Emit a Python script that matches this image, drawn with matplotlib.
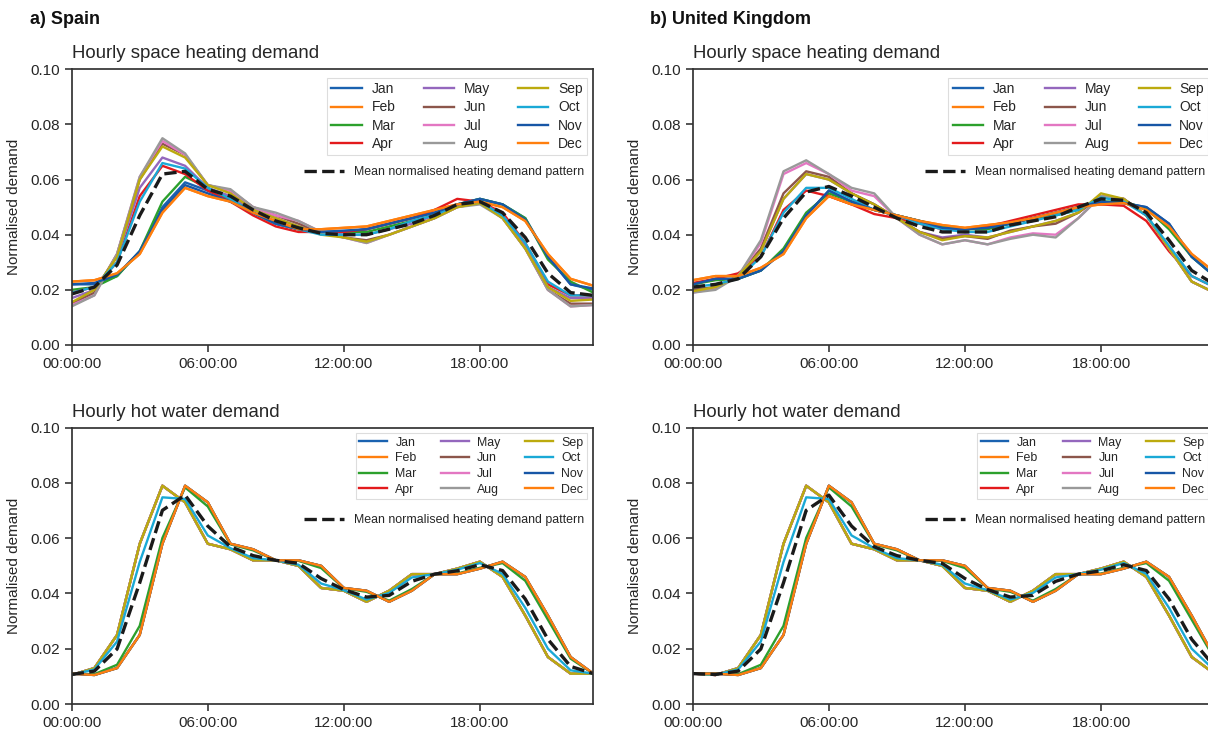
import matplotlib.pyplot as plt
import matplotlib as mpl
from matplotlib.lines import Line2D

# global font / style settings
mpl.rcParams.update({
    'font.family': ['Liberation Sans', 'DejaVu Sans'],
    'axes.edgecolor': '#333333',
    'axes.linewidth': 1.25,
    'xtick.color': '#262626',
    'ytick.color': '#262626',
    'text.color': '#262626',
    'axes.labelcolor': '#262626',
})

# data: hourly normalised demand, one value per hour
hours = list(range(24))
xtick_pos = [0, 6, 12, 18]
xtick_labels = ['00:00:00', '06:00:00', '12:00:00', '18:00:00']
ytick_pos = [0.00, 0.02, 0.04, 0.06, 0.08, 0.10]
months = ['Jan', 'Feb', 'Mar', 'Apr', 'May', 'Jun', 'Jul', 'Aug', 'Sep', 'Oct', 'Nov', 'Dec']
month_colors = ['#1a62b0', '#ff7f0e', '#2ca02c', '#e31a1c', '#9467bd', '#8c564b',
                '#e377c2', '#999999', '#bcaa0e', '#1aa9d6', '#1756a6', '#ff7f0e']

# Spain - space heating
es_heat_jan = [.022, .022, .025, .034, .050, .059, .056, .053, .048, .044, .042, .041, .041, .042, .044, .046, .048, .051, .053, .051, .046, .032, .022, .020]
es_heat_feb = [.023, .0235, .026, .033, .048, .057, .054, .052, .048, .045, .042, .042, .0425, .043, .045, .047, .049, .051, .052, .050, .045, .033, .024, .0215]
es_heat_mar = [.020, .021, .025, .034, .052, .061, .057, .053, .048, .044, .042, .041, .041, .041, .043, .045, .047, .051, .053, .051, .046, .031, .023, .019]
es_heat_apr = [.019, .021, .030, .054, .065, .062, .056, .052, .047, .043, .041, .041, .041, .042, .044, .046, .049, .053, .052, .048, .037, .022, .018, .018]
es_heat_may = [.017, .020, .032, .057, .068, .065, .057, .054, .049, .046, .043, .041, .040, .040, .042, .044, .047, .051, .052, .047, .036, .021, .017, .017]
es_heat_jun = [.015, .019, .033, .060, .073, .069, .058, .056, .050, .047, .044, .041, .039, .038, .040, .043, .046, .050, .052, .046, .035, .020, .015, .015]
es_heat_jul = [.0145, .018, .033, .061, .074, .069, .058, .056, .050, .047, .045, .041, .039, .037, .040, .043, .046, .050, .0515, .046, .035, .020, .014, .0145]
es_heat_aug = [.014, .018, .033, .061, .075, .0695, .058, .0565, .050, .048, .045, .041, .039, .037, .040, .043, .046, .050, .051, .046, .035, .020, .014, .0145]
es_heat_sep = [.0155, .020, .032, .060, .072, .068, .058, .055, .049, .046, .043, .040, .039, .0375, .040, .043, .046, .050, .0515, .046, .035, .021, .016, .0165]
es_heat_oct = [.019, .021, .030, .052, .066, .064, .057, .053, .048, .044, .042, .040, .040, .040, .042, .045, .047, .051, .052, .047, .037, .023, .018, .018]
es_heat_nov = [.022, .0225, .0255, .034, .049, .058, .055, .052, .048, .044, .042, .041, .0415, .042, .044, .046, .048, .051, .053, .051, .0455, .032, .022, .0205]
es_heat_dec = [.023, .0235, .026, .033, .048, .057, .054, .052, .048, .045, .042, .042, .0425, .043, .045, .047, .049, .051, .052, .050, .045, .033, .024, .0215]
es_heat_mean = [.0185, .021, .029, .047, .062, .063, .0565, .054, .049, .045, .0425, .0405, .040, .040, .042, .044, .047, .051, .052, .048, .039, .026, .019, .018]

# United Kingdom - space heating
uk_heat_jan = [.022, .024, .024, .027, .034, .047, .056, .052, .049, .047, .045, .043, .042, .0425, .044, .046, .048, .050, .052, .0515, .050, .044, .032, .025]
uk_heat_feb = [.0235, .025, .025, .028, .033, .046, .054, .051, .049, .047, .045, .0435, .0425, .0435, .0445, .046, .048, .050, .051, .0515, .049, .043, .033, .0265]
uk_heat_mar = [.022, .0235, .024, .027, .035, .048, .055, .052, .049, .047, .045, .043, .042, .042, .044, .046, .047, .049, .052, .052, .0495, .042, .032, .025]
uk_heat_apr = [.0225, .024, .026, .032, .049, .056, .054, .051, .0475, .046, .044, .042, .042, .043, .045, .047, .049, .051, .051, .0505, .045, .034, .025, .021]
uk_heat_may = [.020, .021, .025, .034, .053, .062, .060, .055, .051, .046, .041, .039, .040, .039, .041, .043, .045, .048, .054, .053, .047, .035, .023, .019]
uk_heat_jun = [.020, .021, .025, .035, .055, .063, .061, .055, .051, .046, .041, .0385, .0395, .0385, .0415, .043, .044, .048, .054, .053, .047, .035, .023, .019]
uk_heat_jul = [.019, .0205, .025, .037, .062, .066, .062, .056, .054, .046, .040, .0365, .038, .0365, .039, .0405, .040, .046, .054, .053, .047, .035, .023, .019]
uk_heat_aug = [.019, .020, .025, .038, .063, .067, .062, .057, .055, .046, .040, .0365, .038, .0365, .0385, .040, .039, .046, .054, .053, .047, .035, .023, .019]
uk_heat_sep = [.0195, .021, .025, .034, .053, .062, .060, .055, .051, .046, .041, .038, .0395, .039, .041, .043, .045, .048, .055, .053, .047, .035, .023, .019]
uk_heat_oct = [.021, .022, .024, .032, .048, .057, .057, .053, .049, .047, .044, .042, .041, .041, .043, .045, .047, .049, .0535, .052, .047, .036, .025, .021]
uk_heat_nov = [.022, .024, .024, .027, .034, .047, .056, .052, .049, .047, .045, .0425, .042, .0425, .044, .046, .048, .050, .052, .0515, .050, .044, .032, .025]
uk_heat_dec = [.0235, .025, .025, .028, .033, .046, .054, .051, .049, .047, .045, .0435, .0425, .0435, .0445, .046, .048, .050, .051, .0515, .049, .043, .033, .0265]
uk_heat_mean = [.021, .022, .024, .032, .046, .0555, .0575, .054, .050, .046, .043, .041, .041, .041, .0435, .045, .0465, .050, .053, .0525, .048, .038, .027, .022]

# Spain - hot water (winter months, summer-time months, and the two changeover months)
es_dhw_winter = [.011, .0105, .013, .025, .058, .079, .073, .058, .056, .052, .052, .050, .042, .041, .037, .041, .047, .047, .049, .0515, .046, .032, .017, .011]
es_dhw_summer = [.0105, .013, .025, .058, .079, .073, .058, .056, .052, .052, .050, .042, .041, .037, .041, .047, .047, .049, .0515, .046, .032, .017, .011, .011]
es_dhw_mar = [.011, .0108, .0142, .0283, .0601, .0784, .0715, .0578, .0556, .052, .0518, .0492, .0419, .0406, .0374, .0416, .047, .0472, .0493, .051, .0446, .0305, .0164, .011]
es_dhw_oct = [.0106, .0125, .0226, .0514, .0748, .0742, .061, .0564, .0528, .052, .0504, .0436, .0412, .0378, .0402, .0458, .047, .0486, .051, .0471, .0348, .020, .0122, .011]
es_dhw_mean = [.0107, .0119, .0199, .0439, .0701, .0756, .0644, .0569, .0537, .052, .0509, .0454, .0414, .0387, .0393, .0444, .047, .0482, .0504, .0483, .038, .0234, .0136, .011]

# United Kingdom - hot water
uk_dhw_winter = [.011, .011, .0105, .013, .025, .058, .079, .073, .058, .056, .052, .052, .050, .042, .041, .037, .041, .047, .047, .049, .0515, .046, .032, .017]
uk_dhw_summer = [.011, .0105, .013, .025, .058, .079, .073, .058, .056, .052, .052, .050, .042, .041, .037, .041, .047, .047, .049, .0515, .046, .032, .017, .011]
uk_dhw_mar = [.011, .011, .0108, .0142, .0283, .0601, .0784, .0715, .0578, .0556, .052, .0518, .0492, .0419, .0406, .0374, .0416, .047, .0472, .0493, .051, .0446, .0305, .0164]
uk_dhw_oct = [.011, .0106, .0125, .0226, .0514, .0748, .0742, .061, .0564, .0528, .052, .0504, .0436, .0412, .0378, .0402, .0458, .047, .0486, .051, .0471, .0348, .020, .0122]
uk_dhw_mean = [.011, .0107, .0119, .0199, .0439, .0701, .0756, .0644, .0569, .0537, .052, .0509, .0454, .0414, .0387, .0393, .0444, .047, .0482, .0504, .0483, .038, .0234, .0136]

es_heat = [es_heat_jan, es_heat_feb, es_heat_mar, es_heat_apr, es_heat_may, es_heat_jun,
           es_heat_jul, es_heat_aug, es_heat_sep, es_heat_oct, es_heat_nov, es_heat_dec]
uk_heat = [uk_heat_jan, uk_heat_feb, uk_heat_mar, uk_heat_apr, uk_heat_may, uk_heat_jun,
           uk_heat_jul, uk_heat_aug, uk_heat_sep, uk_heat_oct, uk_heat_nov, uk_heat_dec]
es_dhw = [es_dhw_winter, es_dhw_winter, es_dhw_mar, es_dhw_summer, es_dhw_summer, es_dhw_summer,
          es_dhw_summer, es_dhw_summer, es_dhw_summer, es_dhw_oct, es_dhw_winter, es_dhw_winter]
uk_dhw = [uk_dhw_winter, uk_dhw_winter, uk_dhw_mar, uk_dhw_summer, uk_dhw_summer, uk_dhw_summer,
          uk_dhw_summer, uk_dhw_summer, uk_dhw_summer, uk_dhw_oct, uk_dhw_winter, uk_dhw_winter]

W, H = 1208, 729
fig = plt.figure(figsize=(W / 100, H / 100), dpi=100)


def px_axes(left, top, width, height):
    # axes placed in pixel units of the final picture
    return fig.add_axes([left / W, 1 - (top + height) / H, width / W, height / H])


def draw_panel(ax, series, mean, title, big):
    for m, vals in enumerate(series):
        ax.plot(hours, vals, color=month_colors[m], lw=1.7, label=months[m])
    mean_line, = ax.plot(hours, mean, color='#1a1a1a', lw=2.4, ls='--',
                         label='Mean normalised heating demand pattern')
    ax.set_xlim(0, 23)
    ax.set_ylim(0, 0.10)
    ax.set_xticks(xtick_pos)
    ax.set_xticklabels(xtick_labels)
    ax.set_yticks(ytick_pos)
    ax.set_yticklabels(['%.2f' % v for v in ytick_pos])
    ax.tick_params(labelsize=11, length=5, width=1.1)
    ax.set_ylabel('Normalised demand', fontsize=11, labelpad=7)
    ax.set_title(title, loc='left', fontsize=13.4, pad=8)

    handles = ax.get_lines()[:12]
    fs = 10 if big else 8.9
    top_y = 0.968 if big else 0.981
    leg = ax.legend(handles=handles, ncol=3, loc='upper right', bbox_to_anchor=(0.988, top_y),
                    borderaxespad=0, fontsize=fs, handlelength=2.2, handletextpad=0.7,
                    columnspacing=2.0, labelspacing=0.3, borderpad=0.3,
                    frameon=True, fancybox=False, edgecolor='#dddddd', framealpha=1)
    leg.get_frame().set_linewidth(0.8)
    ax.add_artist(leg)
    mean_y = 0.6275 if big else 0.666
    ax.legend(handles=[mean_line], loc='center right', bbox_to_anchor=(0.982, mean_y),
              borderaxespad=0, borderpad=0, frameon=False, fontsize=8.9,
              handlelength=3.2, handletextpad=0.8)


ax1 = px_axes(71.7, 69.3, 521.6, 275.7)
ax2 = px_axes(692.8, 69.3, 521.6, 275.7)
ax3 = px_axes(71.7, 427.7, 521.6, 276.3)
ax4 = px_axes(692.8, 427.7, 521.6, 276.3)

draw_panel(ax1, es_heat, es_heat_mean, 'Hourly space heating demand', True)
draw_panel(ax2, uk_heat, uk_heat_mean, 'Hourly space heating demand', True)
draw_panel(ax3, es_dhw, es_dhw_mean, 'Hourly hot water demand', False)
draw_panel(ax4, uk_dhw, uk_dhw_mean, 'Hourly hot water demand', False)

fig.text(30 / W, 1 - 24 / H, 'a) Spain', fontsize=13, fontweight='bold', va='baseline', color='#111111')
fig.text(650 / W, 1 - 24 / H, 'b) United Kingdom', fontsize=13, fontweight='bold', va='baseline', color='#111111')

fig.savefig('out.png', dpi=100)
